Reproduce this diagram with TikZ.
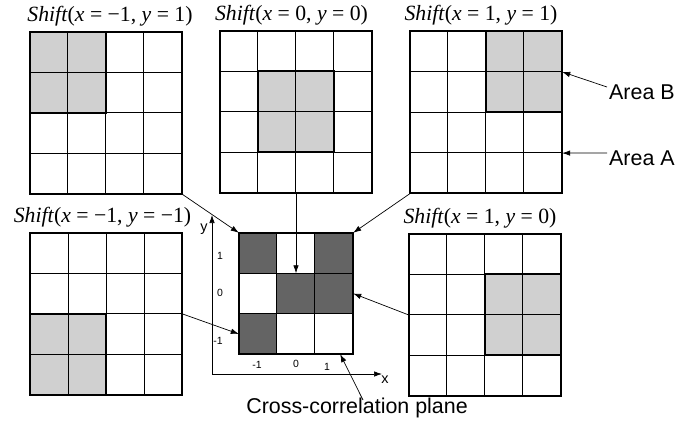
\documentclass[tikz,border=0pt]{standalone}
\usepackage{fontspec}
\setmainfont{Liberation Serif}
\setsansfont{Liberation Sans}
\usetikzlibrary{arrows.meta,calc}
\definecolor{lightg}{HTML}{D0D0D0}
\definecolor{darkg}{HTML}{646464}
\tikzset{
  gridbox/.style={rectangle,draw=none,inner sep=0pt,minimum width=152bp,minimum height=162bp},
  ccbox/.style={rectangle,draw=none,inner sep=0pt,minimum width=114bp,minimum height=121bp},
  thinline/.style={line width=0.9bp,black},
  thickline/.style={line width=2bp,black},
  conn/.style={line width=0.7bp,-{Latex[length=8bp,width=5.5bp]}},
  titlelbl/.style={inner sep=0pt,font=\fontsize{21.8}{25}\selectfont},
  sanslbl/.style={inner sep=0pt,font=\sffamily\fontsize{21.5}{25}\selectfont},
  ticklbl/.style={inner sep=0pt,font=\sffamily\fontsize{10.5}{12}\selectfont},
  axislbl/.style={inner sep=0pt,font=\sffamily\fontsize{14.5}{16}\selectfont},
}
\newcommand{\mygrid}[5]{%
  \node[gridbox] (#1) at (#2,#3) {};
  \begin{scope}[shift={(#1.north west)}]
    \fill[lightg] (#4*38,#5*40.5) rectangle ++(76,81);
    \foreach \i in {1,2,3} {
      \draw[thinline] (\i*38,0) -- (\i*38,162);
      \draw[thinline] (0,\i*40.5) -- (152,\i*40.5);
    }
    \draw[thickline] (#4*38,#5*40.5) rectangle ++(76,81);
    \draw[thickline] (0,0) rectangle (152,162);
  \end{scope}
}
\begin{document}
\begin{tikzpicture}[x=1bp,y=-1bp]
\useasboundingbox[fill=white] (0,0) rectangle (693,423);

% grids
\mygrid{tl}{106}{113}{0}{0}
\mygrid{tm}{296}{112}{1}{1}
\mygrid{tr}{486}{112.5}{2}{0}
\mygrid{bl}{106.5}{314}{0}{2}
\mygrid{br}{485}{315}{2}{1}

% titles
\node[titlelbl] (ttl) at (110,16) {\textit{Shift}(\textit{x} = −1, \textit{y} = 1)};
\node[titlelbl] (ttm) at (291.5,15) {\textit{Shift}(\textit{x} = 0, \textit{y} = 0)};
\node[titlelbl] (ttr) at (481,15) {\textit{Shift}(\textit{x} = 1, \textit{y} = 1)};
\node[titlelbl] (tbl) at (102.5,217) {\textit{Shift}(\textit{x} = −1, \textit{y} = −1)};
\node[titlelbl] (tbr) at (480,218) {\textit{Shift}(\textit{x} = 1, \textit{y} = 0)};

% cross-correlation plane
\node[ccbox] (cc) at (296,293.5) {};
\begin{scope}[shift={(cc.north west)}]
  \fill[darkg] (0,0) rectangle (38,40.33);
  \fill[darkg] (76,0) rectangle (114,40.33);
  \fill[darkg] (38,40.33) rectangle (114,80.67);
  \fill[darkg] (0,80.67) rectangle (38,121);
  \foreach \i in {1,2} {
    \draw[thinline] (\i*38,0) -- (\i*38,121);
    \draw[thinline] (0,\i*40.33) -- (114,\i*40.33);
  }
  \draw[thickline] (0,0) rectangle (114,121);
\end{scope}

% axes
\coordinate (orig) at (212,374);
\coordinate (ytip) at (212,215);
\coordinate (xtip) at (382,374);
\draw[conn] (orig) -- (ytip);
\draw[conn] (orig) -- (xtip);
\node[axislbl] (ylbl) at (204,229) {y};
\node[axislbl] (xlbl) at (385,380) {x};
\node[ticklbl] (yt1) at (220,256) {1};
\node[ticklbl] (yt0) at (220,293) {0};
\node[ticklbl] (ytm) at (218,341) {-1};
\node[ticklbl] (xtm) at (257,365) {-1};
\node[ticklbl] (xt0) at (296,364) {0};
\node[ticklbl] (xt1) at (327,367) {1};

% labels
\node[sanslbl,anchor=west] (areab) at (609,92) {Area B};
\node[sanslbl,anchor=west] (areaa) at (609,158) {Area A};
\node[sanslbl] (ccl) at (357,408) {Cross-correlation plane};
\coordinate (cclstart) at (363,400);
\coordinate (abstart) at (607,87);
\coordinate (aastart) at (607,153);

% connectors
\draw[conn] (tl.south east) -- (cc.north west);
\draw[conn] (tr.south west) -- (cc.north east);
\draw[conn] (tm.south) -- ($(cc.north)!1/3!(cc.south)$);
\draw[conn] (bl.east) -- ($(cc.south west)!1/6!(cc.north west)$);
\draw[conn] (br.west) -- (cc.east);
\draw[conn] (cclstart) -- ([xshift=-13bp]cc.south east);
\draw[conn] (abstart) -- ($(tr.north east)!0.25!(tr.south east)$);
\draw[conn] (aastart) -- ($(tr.north east)!0.75!(tr.south east)$);
\end{tikzpicture}
\end{document}
